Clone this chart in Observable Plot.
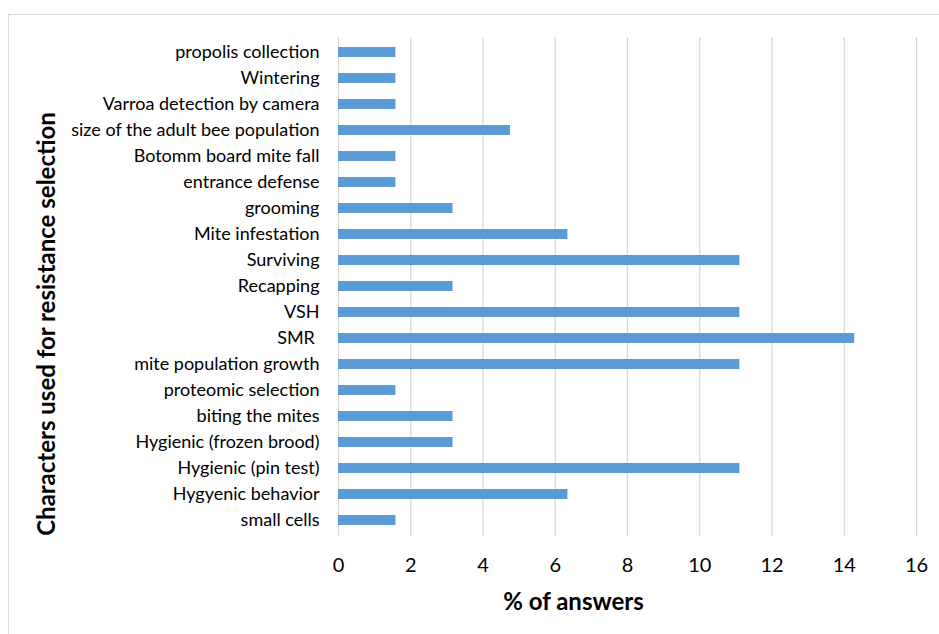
<!DOCTYPE html>
<html>
<head>
<meta charset="utf-8">
<script src="https://cdn.jsdelivr.net/npm/d3@7"></script>
<script src="https://cdn.jsdelivr.net/npm/@observablehq/plot@0.6"></script>
<style>
  html, body { margin: 0; padding: 0; background: #fff; }
  #wrap { position: relative; width: 939px; height: 634px; overflow: hidden; }
  #frame { position: absolute; left: 8px; top: 14px; width: 960px; height: 660px; border: 1.5px solid #d9d9d9; box-sizing: border-box; pointer-events: none; }
  svg { position: absolute; left: 0; top: 0; }
</style>
</head>
<body>
<div id="wrap"><div id="frame"></div></div>
<script>
const categories = [
  "propolis collection",
  "Wintering",
  "Varroa detection by camera",
  "size of the adult bee population",
  "Botomm board mite fall",
  "entrance defense",
  "grooming",
  "Mite infestation",
  "Surviving",
  "Recapping",
  "VSH",
  "SMR ",
  "mite population growth",
  "proteomic selection",
  "biting the mites",
  "Hygienic (frozen brood)",
  "Hygienic (pin test)",
  "Hygyenic behavior",
  "small cells"
];
const values = [1.59, 1.59, 1.59, 4.76, 1.59, 1.59, 3.17, 6.35, 11.11, 3.17, 11.11, 14.29, 11.11, 1.59, 3.17, 3.17, 11.11, 6.35, 1.59];
const xTicks = [0, 2, 4, 6, 8, 10, 12, 14, 16];
const xTitle = "% of answers";
const yTitle = "Characters used for resistance selection";

const data = categories.map((c, i) => ({category: c, value: values[i]}));

const chart = Plot.plot({
  width: 939,
  height: 634,
  marginLeft: 338,
  marginRight: 23,
  marginTop: 37,
  marginBottom: 98,
  style: {fontFamily: "Lato, 'Open Sans', sans-serif", color: "#000", background: "transparent"},
  x: {domain: [0, 16], ticks: xTicks, label: null},
  y: {domain: categories, label: null, paddingInner: 0.6, paddingOuter: 0.3},
  marks: [
    Plot.gridX(xTicks.slice(1), {stroke: "#d9d9d9", strokeOpacity: 1, strokeWidth: 1.3}),
    Plot.ruleX([0], {stroke: "#d9d9d9", strokeWidth: 1.3}),
    Plot.barX(data, {x: "value", y: "category", fill: "#5b9bd5"}),
    Plot.axisX({ticks: xTicks, tickSize: 0, tickPadding: 21, fontSize: 20, label: null}),
    Plot.axisY({tickSize: 0, tickPadding: 19, fontSize: 18, label: null}),
    Plot.text([xTitle], {frameAnchor: "bottom", dx: -54, dy: 73, fontSize: 24, fontWeight: "bold", fill: "#000"}),
    Plot.text([yTitle], {frameAnchor: "left", textAnchor: "middle", rotate: -90, dx: -291, dy: 37, fontSize: 24, fontWeight: "bold", fill: "#000"})
  ]
});
document.getElementById("wrap").appendChild(chart);
</script>
</body>
</html>
